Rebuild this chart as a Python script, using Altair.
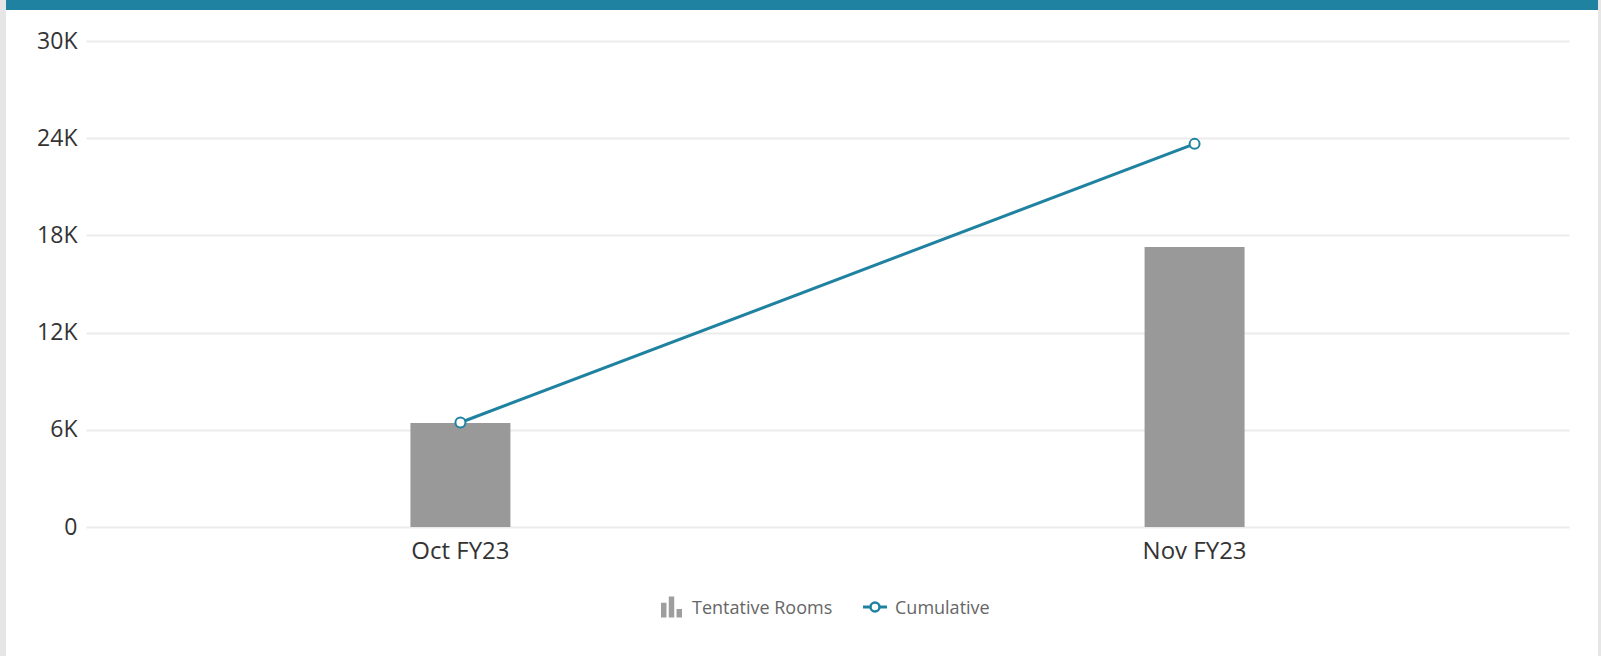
import altair as alt
import pandas as pd

months = ["Oct FY23", "Nov FY23"]
tentative = [6420, 17280]
cumulative = [6450, 23650]
legend_labels = ["Tentative Rooms", "Cumulative"]
y_ticks = [0, 6000, 12000, 18000, 24000, 30000]

TEAL = "#1f82a0"
GRAY_BAR = "#999999"
FONT = "Open Sans"

W, H = 1483, 486
PAD_L, PAD_T, PAD_R, PAD_B = 86, 41, 32, 129

df = pd.DataFrame({"month": months, "tentative": tentative, "cumulative": cumulative})
one = pd.DataFrame({"k": [0]})

x_scale = alt.Scale(paddingInner=0, paddingOuter=0.01)
x_enc = alt.X("month:N", sort=months, title=None, scale=x_scale,
              axis=alt.Axis(labelAngle=0, labelFont=FONT, labelFontSize=24,
                            labelColor="#333333", labelPadding=12,
                            domain=False, ticks=False, grid=False))
y_scale = alt.Scale(domain=[0, 30000], nice=False)
y_axis = alt.Axis(values=y_ticks, labelFont=FONT, labelFontSize=23,
                  labelColor="#333333", labelPadding=9, domain=False, ticks=False,
                  grid=True, gridColor="#ebebeb", gridWidth=2,
                  labelExpr="datum.value == 0 ? '0' : (datum.value / 1000) + 'K'")

base = alt.Chart(df)
bars = base.mark_bar(color=GRAY_BAR, size=100).encode(
    x=x_enc,
    y=alt.Y("tentative:Q", scale=y_scale, axis=y_axis, title=None),
)
line = base.mark_line(color=TEAL, strokeWidth=3).encode(
    x=alt.X("month:N", sort=months, scale=x_scale),
    y=alt.Y("cumulative:Q", scale=y_scale),
)
pts = base.mark_point(filled=True, fill="white", stroke=TEAL, strokeWidth=2,
                      size=100, opacity=1).encode(
    x=alt.X("month:N", sort=months, scale=x_scale),
    y=alt.Y("cumulative:Q", scale=y_scale),
)

# frame decorations
ch = alt.Chart(one)
top_band = ch.mark_rect(color=TEAL).encode(
    x=alt.value(-PAD_L + 6), x2=alt.value(1598 - PAD_L),
    y=alt.value(-PAD_T), y2=alt.value(-PAD_T + 10))
left_strip = ch.mark_rect(color="#e6e6e6").encode(
    x=alt.value(-PAD_L), x2=alt.value(-PAD_L + 6),
    y=alt.value(-PAD_T), y2=alt.value(656 - PAD_T))
right_strip = ch.mark_rect(color="#e6e6e6").encode(
    x=alt.value(1598 - PAD_L), x2=alt.value(1601 - PAD_L),
    y=alt.value(-PAD_T), y2=alt.value(656 - PAD_T))

# legend
LY = 609 - PAD_T
bar_icon_path = ("M-1,1 L-1,-0.4 L-0.48,-0.4 L-0.48,1 Z "
                 "M-0.26,1 L-0.26,-1 L0.26,-1 L0.26,1 Z "
                 "M0.48,1 L0.48,0.2 L1,0.2 L1,1 Z")
leg_bar = ch.mark_point(filled=True, color="#9e9e9e", opacity=1).encode(
    x=alt.value(671.5 - PAD_L), y=alt.value(LY - 2),
    shape=alt.value(bar_icon_path), size=alt.value(441))
leg_t1 = alt.Chart(pd.DataFrame({"label": [legend_labels[0]]})).mark_text(
    align="left", baseline="middle", font=FONT, fontSize=18, color="#666666").encode(
    x=alt.value(692 - PAD_L), y=alt.value(LY), text="label:N")
leg_line = ch.mark_rule(color=TEAL, strokeWidth=3).encode(
    x=alt.value(863 - PAD_L), x2=alt.value(887 - PAD_L), y=alt.value(LY - 2))
leg_circ = ch.mark_point(filled=True, fill="white", stroke=TEAL, strokeWidth=2.5,
                         size=80, opacity=1).encode(
    x=alt.value(875 - PAD_L), y=alt.value(LY - 2))
leg_t2 = alt.Chart(pd.DataFrame({"label": [legend_labels[1]]})).mark_text(
    align="left", baseline="middle", font=FONT, fontSize=18, color="#666666").encode(
    x=alt.value(895 - PAD_L), y=alt.value(LY), text="label:N")

chart = alt.layer(
    bars, line, pts, top_band, left_strip, right_strip,
    leg_bar, leg_t1, leg_line, leg_circ, leg_t2
).properties(
    width=W, height=H,
    autosize=alt.AutoSizeParams(type="none"),
    padding={"left": PAD_L, "top": PAD_T, "right": PAD_R, "bottom": PAD_B},
    background="white",
).configure_view(stroke=None)

chart.save("out.html", embed_options={"renderer": "svg", "actions": False})
